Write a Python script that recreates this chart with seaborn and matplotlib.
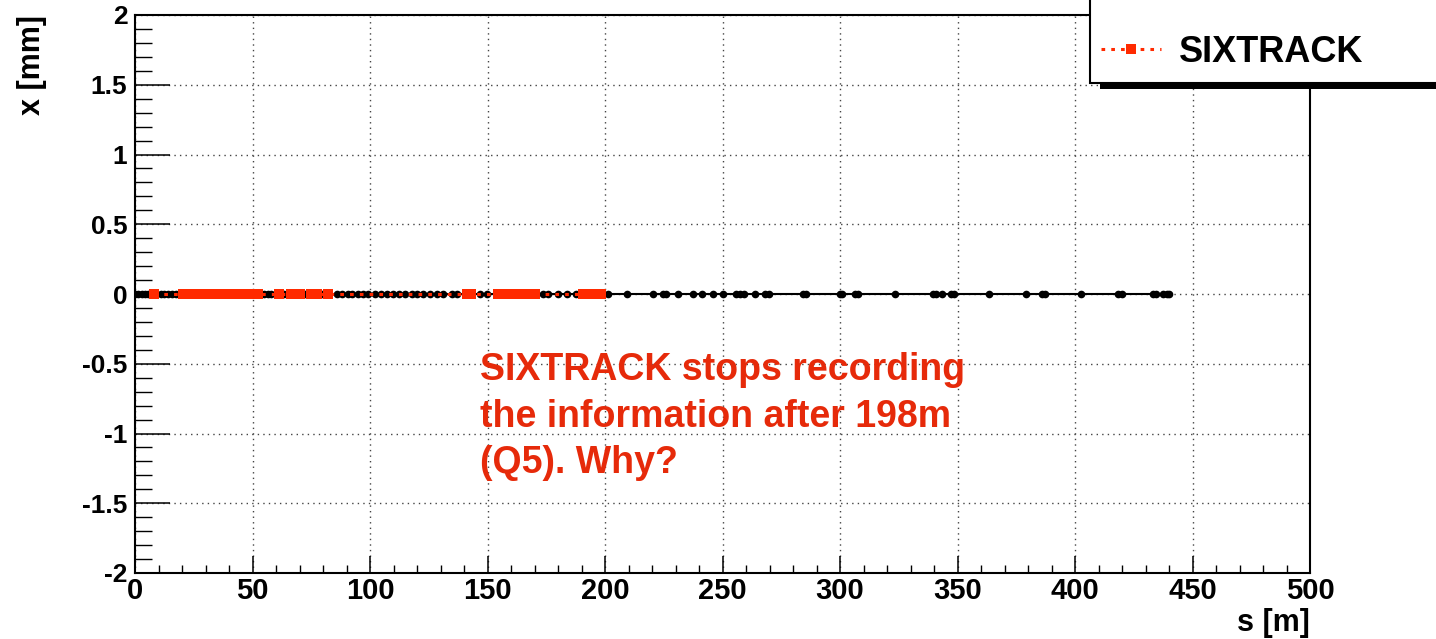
import matplotlib
matplotlib.use("Agg")
import matplotlib.pyplot as plt
from matplotlib.patches import Rectangle
from matplotlib.ticker import MultipleLocator
import seaborn as sns

# Element positions along the beam line [m] and horizontal orbit [mm]
s_madx = [0.0, 1.4, 2.9, 4.3, 5.6, 10.9, 12.3, 14.0, 15.8, 17.4, 24.0, 33.0,
          45.0, 54.9, 56.4, 58.0, 63.5, 72.5, 79.6, 85.8, 87.9, 90.5, 92.5,
          95.0, 97.2, 99.3, 102.1, 104.7, 107.1, 109.9, 112.3, 114.9, 117.7,
          119.9, 122.7, 125.5, 128.4, 131.2, 134.8, 136.9, 141.0, 146.8,
          149.7, 158.0, 166.0, 173.8, 175.9, 180.1, 183.7, 187.6, 190.8,
          196.0, 201.4, 209.2, 220.3, 224.5, 225.9, 230.9, 237.6, 241.1,
          246.1, 250.1, 255.7, 257.4, 259.1, 263.8, 268.1, 269.9, 284.4,
          285.5, 300.0, 300.7, 306.4, 307.8, 323.4, 339.4, 340.9, 343.3,
          347.1, 348.5, 363.3, 379.1, 385.8, 387.2, 402.6, 418.4, 419.9,
          433.3, 434.5, 437.6, 439.0, 440.1]
x_madx = [0.0] * len(s_madx)

s_sixtrack = [8.1, 20.3, 22.1, 24.0, 25.8, 27.9, 29.7, 31.6, 33.5, 35.4, 37.2,
              39.1, 41.0, 42.9, 44.7, 46.6, 48.5, 50.4, 52.5, 61.3, 66.4,
              70.4, 74.9, 77.5, 82.2, 141.3, 142.8, 154.4, 156.8, 159.2,
              161.6, 164.0, 166.3, 168.5, 170.4, 190.6, 194.7, 197.0, 198.1]
x_sixtrack = [0.0] * len(s_sixtrack)

x_ticks = [0, 50, 100, 150, 200, 250, 300, 350, 400, 450, 500]
y_ticks = [-2, -1.5, -1, -0.5, 0, 0.5, 1, 1.5, 2]
y_tick_labels = ["-2", "-1.5", "-1", "-0.5", "0", "0.5", "1", "1.5", "2"]

note = "SIXTRACK stops recording\nthe information after 198m\n(Q5). Why?"

RED = "#ff2a00"
NOTE_RED = "#e62a0a"

sns.set_style("white")
plt.rcParams["font.family"] = ["Liberation Sans", "DejaVu Sans"]
plt.rcParams["font.weight"] = "bold"
plt.rcParams["text.color"] = "black"
plt.rcParams["axes.labelcolor"] = "black"

W, H = 1436, 639
fig = plt.figure(figsize=(W / 100, H / 100), dpi=100)
ax = fig.add_axes([135 / W, 1 - 573 / H, (1310 - 135) / W, (573 - 15) / H])

sns.lineplot(x=s_madx, y=x_madx, ax=ax, color="black", linewidth=1.5,
             marker="o", markersize=5.5, markeredgewidth=0,
             estimator=None, sort=False, zorder=2)
sns.lineplot(x=s_sixtrack, y=x_sixtrack, ax=ax, color=RED, linewidth=2.2,
             linestyle=(0, (1.2, 2.0)), marker="s", markersize=7.2,
             markeredgewidth=0, estimator=None, sort=False, zorder=3)

ax.set_xlim(0, 500)
ax.set_ylim(-2, 2)
ax.set_xticks(x_ticks)
ax.set_xticklabels([str(t) for t in x_ticks])
ax.set_yticks(y_ticks)
ax.set_yticklabels(y_tick_labels)
ax.xaxis.set_minor_locator(MultipleLocator(10))
ax.yaxis.set_minor_locator(MultipleLocator(0.1))

ax.tick_params(axis="both", which="both", direction="in", bottom=True,
               left=True, top=False, right=False, colors="black",
               labelcolor="black")
ax.tick_params(axis="x", which="major", length=12.2, width=1.1, pad=3,
               labelsize=21)
ax.tick_params(axis="x", which="minor", length=6, width=1.0)
ax.tick_params(axis="y", which="major", length=25, width=1.1, pad=5.5,
               labelsize=19)
ax.tick_params(axis="y", which="minor", length=12.5, width=1.0)
for lab in ax.get_xticklabels() + ax.get_yticklabels():
    lab.set_fontweight("bold")

ax.grid(True, which="major", color="#444444", linewidth=1.0,
        linestyle=(0, (1, 3)))
ax.set_axisbelow(True)
for sp in ax.spines.values():
    sp.set_linewidth(1.5)
    sp.set_color("black")

ax.set_xlabel("s [m]", loc="right", fontsize=22, fontweight="bold", labelpad=2)
ax.set_ylabel("x [mm]", loc="top", fontsize=22, fontweight="bold", labelpad=25)

ax.text(146.8, -0.416, note, color=NOTE_RED, fontsize=27, fontweight="bold",
        ha="left", va="top", linespacing=1.38)

# legend box (runs off the top/right of the canvas) with its drop shadow
ax.add_patch(Rectangle((1100 / W, 1 - 89 / H), 0.3, 0.3,
                       transform=fig.transFigure, facecolor="black",
                       edgecolor="none", clip_on=False, zorder=4.8))
ax.add_patch(Rectangle((1090 / W, 1 - 83 / H), 0.3, 0.3,
                       transform=fig.transFigure, facecolor="white",
                       edgecolor="black", linewidth=1.5, clip_on=False,
                       zorder=4.9))

lines = ax.get_lines()
leg = ax.legend(handles=[lines[1]], labels=["SIXTRACK"],
                loc="center left",
                bbox_to_anchor=(1090 / W, 1 - 52 / H),
                bbox_transform=fig.transFigure,
                borderaxespad=0, borderpad=0.3,
                handlelength=1.67, handletextpad=0.5,
                prop={"weight": "bold", "size": 26},
                frameon=False, labelcolor="black")
leg.set_zorder(5)

fig.savefig("out.png", dpi=100, facecolor="white")
